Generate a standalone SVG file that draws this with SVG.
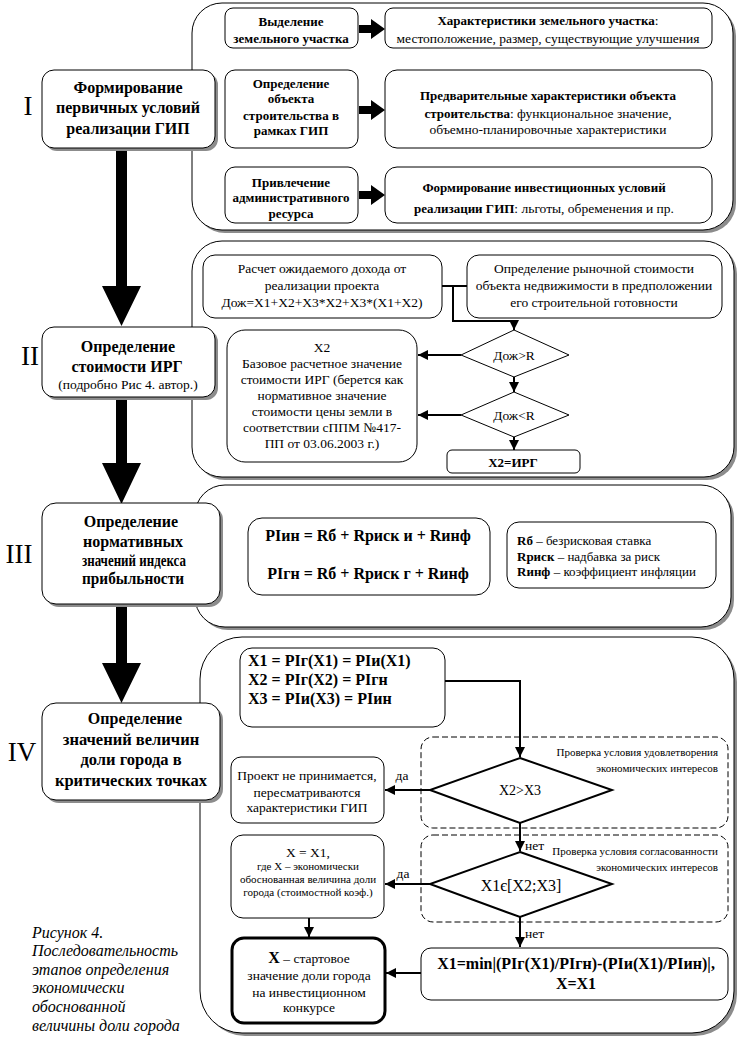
<svg xmlns="http://www.w3.org/2000/svg" width="742" height="1054" viewBox="0 0 742 1054">
<defs>
<style>
.bx{fill:#fff;stroke:#000;stroke-width:1}
.sh{fill:#8c8c8c;stroke:none}
.dash{fill:none;stroke:#000;stroke-width:1;stroke-dasharray:6,3}
.ln{fill:none;stroke:#000;stroke-width:2}
.t{font-family:"Liberation Serif","Times New Roman",serif;font-size:13.5px;fill:#000;text-anchor:middle}
.tl{font-family:"Liberation Serif","Times New Roman",serif;font-size:13px;fill:#000;text-anchor:start}
.b{font-family:"Liberation Serif","Times New Roman",serif;font-size:13px;font-weight:bold;fill:#000;text-anchor:middle}
.sb{font-family:"Liberation Serif","Times New Roman",serif;font-size:16px;font-weight:bold;fill:#000;text-anchor:middle}
.bf{font-family:"Liberation Serif","Times New Roman",serif;font-size:16px;font-weight:bold;fill:#000}
.s{font-family:"Liberation Serif","Times New Roman",serif;font-size:11px;fill:#000}
.rn{font-family:"Liberation Serif","Times New Roman",serif;font-size:27px;fill:#000;text-anchor:middle}
.cap{font-family:"Liberation Serif","Times New Roman",serif;font-size:16px;font-style:italic;fill:#000}
</style>
<marker id="ah" viewBox="0 0 10 10" refX="10" refY="5" markerWidth="5" markerHeight="5" orient="auto" markerUnits="strokeWidth">
<path d="M0,0 L10,5 L0,10 z" fill="#000"/>
</marker>
</defs>
<rect width="742" height="1054" fill="#fff"/>

<!-- panels -->
<g id="panel1"><rect class="sh" x="195" y="6" width="541" height="227" rx="30"/><rect class="bx" x="192" y="3" width="541" height="227" rx="30"/></g>
<g id="panel2"><rect class="sh" x="195" y="244" width="542" height="236" rx="30"/><rect class="bx" x="192" y="241" width="542" height="236" rx="30"/></g>
<g id="panel3"><rect class="sh" x="198" y="488" width="536" height="142" rx="30"/><rect class="bx" x="195" y="485" width="536" height="142" rx="30"/></g>
<g id="panel4"><rect class="sh" x="203" y="640" width="534" height="396" rx="42"/><rect class="bx" x="200" y="637" width="534" height="396" rx="42"/></g>

<!-- connectors -->
<g id="connectors">
<path d="M116,148 H127 V286 H141 L121.5,326 L102,286 H116 Z" fill="#000"/>
<path d="M116,397 H127 V463 H141 L121.5,504 L102,463 H116 Z" fill="#000"/>
<path d="M116,607 H127 V663 H141 L121.5,703 L102,663 H116 Z" fill="#000"/>
<path d="M359,25 H371 V19 L385,29 L371,39 V33 H359 Z" fill="#000"/>
<path d="M359,106 H371 V100 L385,110 L371,120 V114 H359 Z" fill="#000"/>
<path d="M359,191 H371 V185 L385,195 L371,205 V199 H359 Z" fill="#000"/>
<path class="ln" d="M442,286 H467 M453,286 V321 H514 V330" marker-end="url(#ah)"/>
<line class="ln" x1="461" y1="355" x2="418" y2="355" marker-end="url(#ah)"/>
<line class="ln" x1="514" y1="377" x2="514" y2="392" marker-end="url(#ah)"/>
<line class="ln" x1="461" y1="415" x2="418" y2="415" marker-end="url(#ah)"/>
<line class="ln" x1="514" y1="437" x2="514" y2="450" marker-end="url(#ah)"/>
<path class="ln" d="M445,681 H520 V757" marker-end="url(#ah)"/>
<line class="ln" x1="430" y1="790" x2="385" y2="790" marker-end="url(#ah)"/>
<line class="ln" x1="520" y1="823" x2="520" y2="851" marker-end="url(#ah)"/>
<line class="ln" x1="430" y1="884" x2="385" y2="884" marker-end="url(#ah)"/>
<line class="ln" x1="520" y1="917" x2="520" y2="947" marker-end="url(#ah)"/>
<line class="ln" x1="421" y1="973" x2="386" y2="973" marker-end="url(#ah)"/>
<line class="ln" x1="309" y1="918" x2="309" y2="937" marker-end="url(#ah)"/>
<text class="t" x="402" y="780">да</text>
<text class="t" x="403" y="878">да</text>
<text class="tl" x="525" y="850" style="font-size:13.5px">нет</text>
<text class="tl" x="525" y="938" style="font-size:13.5px">нет</text>
</g>

<!-- Stage boxes -->
<g id="stage1">
<text class="rn" x="28" y="115">I</text>
<rect class="sh" x="45" y="73" width="173" height="78" rx="12"/><rect class="bx" x="42" y="70" width="173" height="78" rx="12"/>
<text class="sb" x="128" y="93">Формирование</text>
<text class="sb" x="128" y="113">первичных условий</text>
<text class="sb" x="128" y="134">реализации ГИП</text>
</g>
<g id="stage2">
<text class="rn" x="30" y="365">II</text>
<rect class="sh" x="45" y="330" width="173" height="70" rx="12"/><rect class="bx" x="42" y="327" width="173" height="70" rx="12"/>
<text class="sb" x="128" y="352">Определение</text>
<text class="sb" x="127" y="372">стоимости ИРГ</text>
<text class="t" x="128" y="389">(подробно Рис 4. автор.)</text>
</g>
<g id="stage3">
<text class="rn" x="19" y="563">III</text>
<rect class="sh" x="45" y="506" width="178" height="101" rx="14"/><rect class="bx" x="42" y="503" width="178" height="101" rx="14"/>
<text class="sb" x="131" y="527">Определение</text>
<text class="sb" x="133" y="547" textLength="100" lengthAdjust="spacingAndGlyphs">нормативных</text>
<text class="sb" x="134" y="566" textLength="104" lengthAdjust="spacingAndGlyphs">значений индекса</text>
<text class="sb" x="133" y="584" textLength="102" lengthAdjust="spacingAndGlyphs">прибыльности</text>
</g>
<g id="stage4">
<text class="rn" x="22" y="761">IV</text>
<rect class="sh" x="45" y="706" width="178" height="97" rx="14"/><rect class="bx" x="42" y="703" width="178" height="97" rx="14"/>
<text class="sb" x="135" y="724">Определение</text>
<text class="sb" x="131" y="745" style="font-size:16.5px">значений величин</text>
<text class="sb" x="131" y="765" style="font-size:16.5px">доли города в</text>
<text class="sb" x="131" y="786" style="font-size:16.5px">критических точках</text>
</g>

<!-- Panel I boxes -->
<g id="p1a"><rect class="bx" x="225" y="8" width="133" height="40" rx="8"/>
<text class="b" x="291" y="26">Выделение</text>
<text class="b" x="291" y="43">земельного участка</text></g>
<g id="p1b"><rect class="bx" x="385" y="8" width="327" height="40" rx="8"/>
<text class="t" x="548" y="25"><tspan font-weight="bold" font-size="13px">Характеристики земельного участка</tspan>:</text>
<text class="t" x="548" y="43">местоположение, размер, существующие улучшения</text></g>
<g id="p1c"><rect class="bx" x="225" y="70" width="133" height="78" rx="10"/>
<text class="b" x="291" y="88">Определение</text>
<text class="b" x="291" y="103">объекта</text>
<text class="b" x="291" y="120">строительства в</text>
<text class="b" x="291" y="135">рамках ГИП</text></g>
<g id="p1d"><rect class="bx" x="385" y="70" width="327" height="78" rx="12"/>
<text class="t" x="548" y="100"><tspan font-weight="bold" font-size="13px">Предварительные характеристики объекта</tspan></text>
<text class="t" x="548" y="118"><tspan font-weight="bold" font-size="13px">строительства</tspan>: функциональное значение,</text>
<text class="t" x="548" y="134">объемно-планировочные характеристики</text></g>
<g id="p1e"><rect class="bx" x="225" y="167" width="133" height="56" rx="10"/>
<text class="b" x="291" y="187">Привлечение</text>
<text class="b" x="291" y="202">административного</text>
<text class="b" x="291" y="218">ресурса</text></g>
<g id="p1f"><rect class="bx" x="385" y="167" width="327" height="56" rx="12"/>
<text class="t" x="544" y="192"><tspan font-weight="bold" font-size="13px">Формирование инвестиционных условий</tspan></text>
<text class="t" x="544" y="213"><tspan font-weight="bold" font-size="13px">реализации ГИП</tspan>: льготы, обременения и пр.</text></g>

<!-- Panel II -->
<g id="p2a"><rect class="bx" x="203" y="255" width="239" height="63" rx="12"/>
<text class="t" x="322" y="273">Расчет ожидаемого дохода от</text>
<text class="t" x="322" y="290">реализации проекта</text>
<text class="t" x="322" y="307">Дож=X1+X2+X3*X2+X3*(X1+X2)</text></g>
<g id="p2b"><rect class="bx" x="467" y="255" width="255" height="63" rx="12"/>
<text class="t" x="594" y="273">Определение рыночной стоимости</text>
<text class="t" x="594" y="290">объекта недвижимости в предположении</text>
<text class="t" x="594" y="307">его строительной готовности</text></g>
<g id="p2c"><rect class="bx" x="227" y="330" width="190" height="132" rx="18"/>
<text class="t" x="322" y="352">X2</text>
<text class="t" x="322" y="368">Базовое расчетное значение</text>
<text class="t" x="322" y="384">стоимости ИРГ (берется как</text>
<text class="t" x="322" y="400">нормативное значение</text>
<text class="t" x="322" y="416">стоимости цены земли в</text>
<text class="t" x="322" y="432">соответствии сППМ №417-</text>
<text class="t" x="322" y="448">ПП от 03.06.2003 г.)</text></g>
<g id="d1"><polygon class="bx" points="514,330 569,355 514,377 461,355"/>
<text class="t" x="514" y="360">Дож&gt;R</text></g>
<g id="d2"><polygon class="bx" points="514,392 569,415 514,437 461,415"/>
<text class="t" x="514" y="420">Дож&lt;R</text></g>
<g id="p2d"><rect class="bx" x="447" y="450" width="133" height="23" rx="5"/>
<text class="b" x="513" y="467">X2=ИРГ</text></g>

<!-- Panel III -->
<g id="p3a"><rect class="bx" x="248" y="518" width="242" height="77" rx="14"/>
<text class="bf" x="368" y="541" text-anchor="middle">PIин = Rб + Rриск и + Rинф</text>
<text class="bf" x="368" y="579" text-anchor="middle">PIгн = Rб + Rриск г + Rинф</text></g>
<g id="p3b"><rect class="bx" x="507" y="522" width="209" height="66" rx="12"/>
<text class="tl" x="517" y="545"><tspan font-weight="bold">Rб</tspan> – безрисковая ставка</text>
<text class="tl" x="517" y="561"><tspan font-weight="bold">Rриск</tspan> – надбавка за риск</text>
<text class="tl" x="517" y="576"><tspan font-weight="bold">Rинф</tspan> – коэффициент инфляции</text></g>

<!-- Panel IV -->
<g id="p4a"><rect class="bx" x="240" y="648" width="205" height="79" rx="12"/>
<text class="bf" x="248" y="666">X1 = PIг(X1) = PIи(X1)</text>
<text class="bf" x="248" y="685">X2 = PIг(X2) = PIгн</text>
<text class="bf" x="248" y="704">X3 = PIи(X3) = PIин</text></g>
<g id="dash1"><rect class="dash" x="421" y="737" width="307" height="91" rx="12"/>
<text class="s" x="718" y="756" text-anchor="end">Проверка условия удовлетворения</text>
<text class="s" x="718" y="772" text-anchor="end">экономических интересов</text></g>
<g id="d3"><polygon class="bx" points="520,758 612,790 520,823 430,790" style="stroke-width:2"/>
<text class="t" x="520" y="795" style="font-size:14px">X2&gt;X3</text></g>
<g id="p4b"><rect class="bx" x="231" y="757" width="153" height="66" rx="10"/>
<text class="t" x="307" y="780">Проект не принимается,</text>
<text class="t" x="307" y="797">пересматриваются</text>
<text class="t" x="307" y="812">характеристики ГИП</text></g>
<g id="dash2"><rect class="dash" x="421" y="835" width="307" height="87" rx="12"/>
<text class="s" x="718" y="855" text-anchor="end">Проверка условия согласованности</text>
<text class="s" x="718" y="871" text-anchor="end">экономических интересов</text></g>
<g id="d4"><polygon class="bx" points="520,852 612,884 520,917 430,884" style="stroke-width:2"/>
<text class="t" x="521" y="891" style="font-size:16px">X1є[X2;X3]</text></g>
<g id="p4c"><rect class="bx" x="231" y="835" width="153" height="83" rx="12"/>
<text class="t" x="308" y="857">X = X1,</text>
<text class="s" x="308" y="870" text-anchor="middle">где X – экономически</text>
<text class="s" x="308" y="883" text-anchor="middle">обоснованная величина доли</text>
<text class="s" x="308" y="896" text-anchor="middle">города (стоимостной коэф.)</text></g>
<g id="p4d"><rect class="bx" x="421" y="948" width="307" height="52" rx="10"/>
<text class="bf" x="576" y="969" text-anchor="middle">X1=min|(PIг(X1)/PIгн)-(PIи(X1)/PIин)|,</text>
<text class="bf" x="576" y="989" text-anchor="middle">X=X1</text></g>
<g id="p4e"><rect class="bx" x="232" y="938" width="153" height="85" rx="12" style="stroke-width:3"/>
<text class="t" x="309" y="963"><tspan font-weight="bold" font-size="16px">X</tspan> – стартовое</text>
<text class="t" x="309" y="980">значение доли города</text>
<text class="t" x="309" y="997">на инвестиционном</text>
<text class="t" x="309" y="1012">конкурсе</text></g>

<!-- caption -->
<g id="caption">
<text class="cap" x="32" y="938">Рисунок 4.</text>
<text class="cap" x="32" y="956">Последовательность</text>
<text class="cap" x="32" y="975">этапов определения</text>
<text class="cap" x="32" y="993">экономически</text>
<text class="cap" x="32" y="1012">обоснованной</text>
<text class="cap" x="32" y="1031">величины доли города</text>
</g>
</svg>
